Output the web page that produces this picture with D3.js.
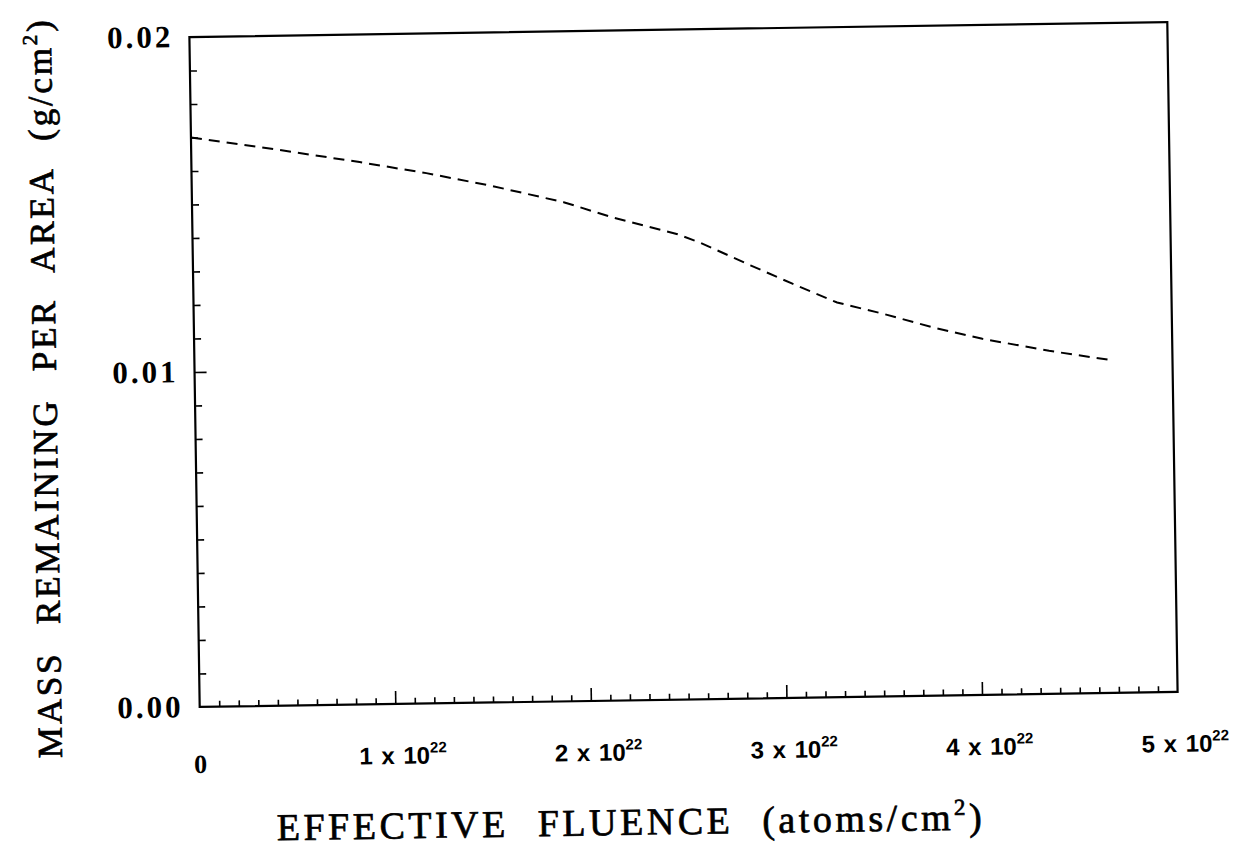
<!DOCTYPE html>
<html>
<head>
<meta charset="utf-8">
<script src="https://cdn.jsdelivr.net/npm/d3@7"></script>
<style>
  body { margin: 0; background: #fff; }
  svg { display: block; }
</style>
</head>
<body>
<svg width="1237" height="849"></svg>
<script>
const width = 1237, height = 849;
const svg = d3.select("svg");

// data (fluence in units of 10^22 atoms/cm^2)
const fluence = [0, 0.45, 0.86, 1.2, 1.54, 1.9, 2.15, 2.48, 2.59, 2.85, 3.06, 3.29, 3.52, 3.78, 4.03, 4.37, 4.68];
const mass = [0.0170, 0.01659, 0.01619, 0.01583, 0.01541, 0.0149, 0.01442, 0.01389, 0.01364, 0.01293, 0.01237, 0.01178, 0.01143, 0.01099, 0.01063, 0.01024, 0.00994];

const xMajor = [0, 1, 2, 3, 4, 5];
const xTickLabels = ["0", "1 x 10", "2 x 10", "3 x 10", "4 x 10", "5 x 10"];
const yMajor = [0, 0.01, 0.02];
const yTickLabels = ["0.00", "0.01", "0.02"];

const plot = { left: 194.5, right: 1172.5, top: 29.5, bottom: 699.5 };
const cx = (plot.left + plot.right) / 2, cy = (plot.top + plot.bottom) / 2;

// the original scan is slightly tilted
const g = svg.append("g").attr("transform", `rotate(-0.88, ${cx}, ${cy})`);

const x = d3.scaleLinear().domain([0, 5]).range([plot.left, plot.right]);
const y = d3.scaleLinear().domain([0, 0.02]).range([plot.bottom, plot.top]);

// minor + major ticks, pointing inward
function drawTicks() {
    const xMinor = d3.range(1, 50).filter(i => i % 10 !== 0).map(i => i / 10);
    const yMinor = d3.range(1, 20).filter(i => i % 10 !== 0).map(i => i / 1000);

    const styleAxis = sel => {
        sel.select(".domain").remove();
        sel.selectAll(".tick line").attr("stroke", "#000").attr("stroke-width", 1.6);
        sel.selectAll(".tick text").remove();
    };

    g.append("g").attr("transform", `translate(0,${plot.bottom})`)
        .call(d3.axisBottom(x).tickValues(xMinor).tickSize(-6)).call(styleAxis);
    g.append("g").attr("transform", `translate(0,${plot.bottom})`)
        .call(d3.axisBottom(x).tickValues([1, 2, 3, 4]).tickSize(-13)).call(styleAxis);

    g.append("g").attr("transform", `translate(${plot.left},0)`)
        .call(d3.axisLeft(y).tickValues(yMinor).tickSize(-7)).call(styleAxis);
    g.append("g").attr("transform", `translate(${plot.left},0)`)
        .call(d3.axisLeft(y).tickValues([0.01]).tickSize(-12)).call(styleAxis);
}

function drawFrame() {
    g.append("rect")
        .attr("x", plot.left).attr("y", plot.top)
        .attr("width", plot.right - plot.left).attr("height", plot.bottom - plot.top)
        .attr("fill", "none").attr("stroke", "#000").attr("stroke-width", 2.2);
}

function drawLabels() {
    // x tick labels
    xMajor.forEach((v, i) => {
        const t = g.append("text")
            .attr("x", x(v) + (i === 0 ? 0 : 7))
            .attr("y", plot.bottom + (i === 0 ? 66 : 60))
            .attr("text-anchor", "middle")
            .style("font-family", i === 0 ? "'Liberation Serif', serif" : "'Liberation Sans', Arial, sans-serif")
            .style("font-weight", "bold")
            .style("font-size", i === 0 ? "26px" : "24px")
            .style("word-spacing", "2px")
            .text(xTickLabels[i]);
        if (i > 0) {
            t.append("tspan").attr("dy", -11).style("font-size", "15px").text("22");
        }
    });

    // y tick labels
    yMajor.forEach((v, i) => {
        g.append("text")
            .attr("x", plot.left - 16)
            .attr("y", y(v) + 10)
            .attr("text-anchor", "end")
            .style("font-family", "'Liberation Serif', serif")
            .style("font-weight", "bold")
            .style("font-size", "31px")
            .style("letter-spacing", "3px")
            .text(yTickLabels[i]);
    });

    // axis titles
    const xt = g.append("text")
        .attr("x", 624).attr("y", 834)
        .attr("text-anchor", "middle")
        .style("font-family", "'Liberation Serif', serif")
        .style("font-size", "38px")
        .style("letter-spacing", "3.5px")
        .style("word-spacing", "16px")
        .style("stroke", "#000").style("stroke-width", 0.7)
        .text("EFFECTIVE FLUENCE (atoms/cm");
    xt.append("tspan").attr("dy", -15).style("font-size", "23px").text("2");
    xt.append("tspan").attr("dy", 15).text(")");

    const yt = g.append("text")
        .attr("transform", `translate(56, 378) rotate(-90)`)
        .attr("text-anchor", "middle")
        .style("font-family", "'Liberation Serif', serif")
        .style("font-size", "35px")
        .style("letter-spacing", "2.8px")
        .style("word-spacing", "16px")
        .style("stroke", "#000").style("stroke-width", 0.7)
        .text("MASS REMAINING PER AREA (g/cm");
    yt.append("tspan").attr("dy", -14).style("font-size", "21px").text("2");
    yt.append("tspan").attr("dy", 14).text(")");
}

function drawLine() {
    const pts = fluence.map((f, i) => [f, mass[i]]);
    g.append("path")
        .datum(pts)
        .attr("fill", "none")
        .attr("stroke", "#000")
        .attr("stroke-width", 2)
        .attr("stroke-dasharray", "11,7")
        .attr("d", d3.line().x(d => x(d[0])).y(d => y(d[1])));
}

drawTicks();
drawFrame();
drawLine();
drawLabels();
</script>
</body>
</html>
